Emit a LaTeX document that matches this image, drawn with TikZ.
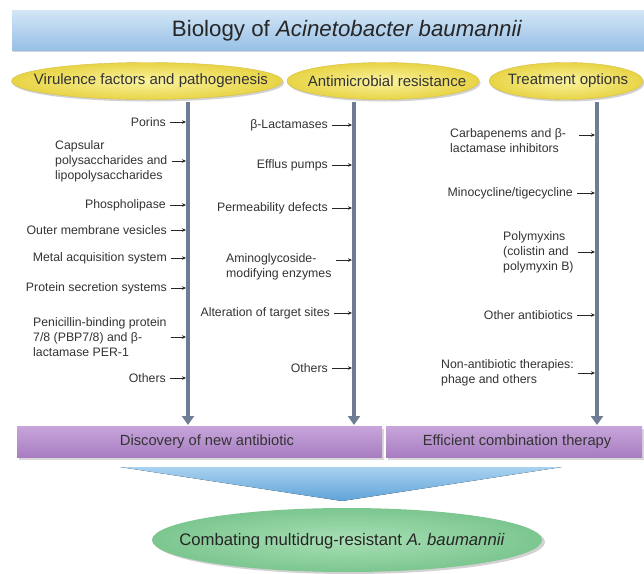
\documentclass[tikz,border=0pt]{standalone}
\usepackage{fontspec}
\setmainfont{Liberation Sans}
\usetikzlibrary{shapes.geometric,arrows.meta,shadows}
\definecolor{titletop}{HTML}{D3E6F6}
\definecolor{titlebot}{HTML}{97C0E6}
\definecolor{yellin}{HTML}{FAF3A0}
\definecolor{yellout}{HTML}{E8D445}
\definecolor{yelledge}{HTML}{D4BE45}
\definecolor{purtop}{HTML}{C6A4DA}
\definecolor{purbot}{HTML}{A77DC1}
\definecolor{linegray}{HTML}{6E7D93}
\definecolor{tritop}{HTML}{A9D2F0}
\definecolor{tribot}{HTML}{5FA3D8}
\definecolor{greenin}{HTML}{A8DFB4}
\definecolor{greenout}{HTML}{7CC690}
\definecolor{txtgray}{HTML}{333333}
\begin{document}
\begin{tikzpicture}[x=1pt,y=-1pt,
  side/.style={font=\fontsize{12.3}{15}\selectfont, text=txtgray, inner sep=0pt, align=left},
  sarr/.style={-{Stealth[length=4pt,width=3.5pt]}, line width=0.6pt, black!85, shorten >=2pt},
  vline/.style={line width=3.6pt, draw=linegray, -{Triangle[width=12pt,length=9pt]}},
  yell/.style={ellipse, inner sep=0pt, draw=yelledge, line width=0.4pt, inner color=yellin, outer color=yellout, minimum height=37pt, drop shadow={shadow xshift=1.5pt,shadow yshift=-2pt,opacity=0.35}},
  ytext/.style={inner sep=0pt, text=txtgray, font=\fontsize{15}{17}\selectfont},
  pbar/.style={rectangle, inner sep=0pt, top color=purtop, bottom color=purbot, minimum height=31pt, text=txtgray, font=\fontsize{14.7}{16}\selectfont, drop shadow={shadow xshift=1.5pt,shadow yshift=-2pt,opacity=0.3}},
]
\useasboundingbox (0,0) rectangle (644,573);
\fill[white] (0,0) rectangle (644,573);

% title
\node[rectangle, inner sep=0pt, top color=titletop, bottom color=titlebot, minimum width=632pt, minimum height=40pt, drop shadow={shadow xshift=1pt,shadow yshift=-2pt,opacity=0.35}] (titlebar) at (328,30) {};
\node[font=\fontsize{22.3}{25}\selectfont, text=black!85, inner sep=0pt] (title) at (347,31) {Biology of \textit{Acinetobacter baumannii}};

% category ellipses
\node[yell, minimum width=271pt] (e1) at (147,81) {};
\node[ytext] (e1t) at (151,81) {Virulence factors and pathogenesis};
\node[yell, minimum width=192pt] (e2) at (383,81) {};
\node[ytext] (e2t) at (387,81) {Antimicrobial resistance};
\node[yell, minimum width=154pt] (e3) at (566,81) {};
\node[ytext] (e3t) at (568,81) {Treatment options};

% vertical lines
\coordinate (t1) at (188,102); \coordinate (b1) at (188,425);
\coordinate (t2) at (354,102); \coordinate (b2) at (354,425);
\coordinate (t3) at (597,102); \coordinate (b3) at (597,425);
\draw[vline] (t1) -- (b1);
\draw[vline] (t2) -- (b2);
\draw[vline] (t3) -- (b3);

% left column
\node[side, anchor=east] (porins) at (166,122) {Porins};
\node[side, anchor=west] (caps) at (55,161) {Capsular\\polysaccharides and\\lipopolysaccharides};
\node[side, anchor=east] (phos) at (166,205) {Phospholipase};
\node[side, anchor=east] (omv) at (167,230) {Outer membrane vesicles};
\node[side, anchor=east] (metal) at (167,258) {Metal acquisition system};
\node[side, anchor=east] (prot) at (167,288) {Protein secretion systems};
\node[side, anchor=west] (pbp) at (33,337) {Penicillin-binding protein\\7/8 (PBP7/8) and β-\\lactamase PER-1};
\node[side, anchor=east] (oth1) at (166,378) {Others};
\foreach \n in {porins,caps,phos,omv,metal,prot,pbp,oth1}
  \draw[sarr] ([xshift=4pt]\n.east) -- (\n.east -| t1);

% middle column
\node[side, anchor=east] (blac) at (328,125) {β-Lactamases};
\node[side, anchor=east] (eff) at (328,165) {Efflus pumps};
\node[side, anchor=east] (perm) at (328,208) {Permeability defects};
\node[side, anchor=north west] (amino) at (226,253) {Aminoglycoside-\\modifying enzymes};
\node[side, anchor=east] (alt) at (330,313) {Alteration of target sites};
\node[side, anchor=east] (oth2) at (328,368) {Others};
\foreach \n in {blac,eff,perm,alt,oth2}
  \draw[sarr] ([xshift=4pt]\n.east) -- (\n.east -| t2);
\coordinate (amA) at (336,260);
\draw[sarr] (amA) -- (amA -| t2);

% right column
\node[side, anchor=north west] (carba) at (450,128) {Carbapenems and β-\\lactamase inhibitors};
\node[side, anchor=east] (mino) at (573,193) {Minocycline/tigecycline};
\node[side, anchor=west] (poly) at (503,252) {Polymyxins\\(colistin and\\polymyxin B)};
\node[side, anchor=east] (othab) at (573,315) {Other antibiotics};
\node[side, anchor=west] (nonab) at (441,373) {Non-antibiotic therapies:\\phage and others};
\foreach \n in {mino,poly,othab,nonab}
  \draw[sarr] ([xshift=4pt]\n.east) -- (\n.east -| t3);
\coordinate (caA) at (579,135);
\draw[sarr] (caA) -- (caA -| t3);

% purple bars
\node[pbar, minimum width=365pt] (bar1) at (199.5,442) {\hspace*{15pt}Discovery of new antibiotic};
\node[pbar, minimum width=256pt] (bar2) at (514,442) {\hspace*{6pt}Efficient combination therapy};

% blue funnel
\fill[top color=tritop, bottom color=tribot] (120,467) -- (562,467) -- (342,501) -- cycle;

% goal
\node[ellipse, inner sep=0pt, minimum width=390pt, minimum height=64pt, inner color=greenin, outer color=greenout, drop shadow={shadow xshift=3pt,shadow yshift=-2pt,opacity=0.35}] (goal) at (347,540) {};
\node[inner sep=0pt, text=black!85, font=\fontsize{16.7}{18}\selectfont] (goalt) at (342,541) {Combating multidrug-resistant \textit{A. baumannii}};
\end{tikzpicture}
\end{document}
